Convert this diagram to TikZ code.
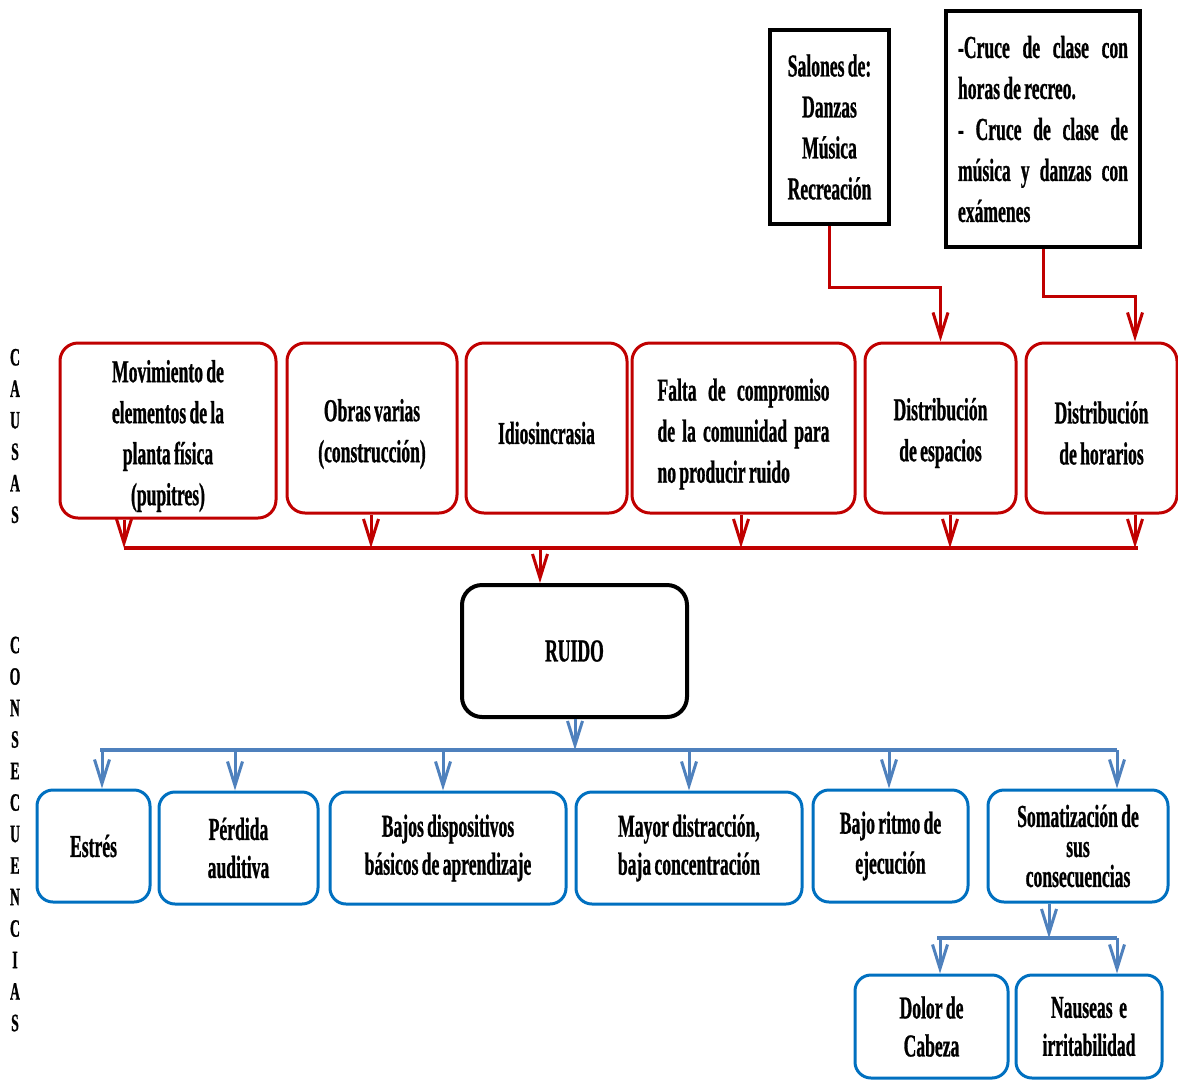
\documentclass[tikz,border=0pt]{standalone}
\usepackage{fontspec}
\setmainfont{Liberation Serif}[FakeStretch=0.55, WordSpace=0.75, BoldFeatures={FakeBold=0.8}]
\usetikzlibrary{arrows.meta}
\definecolor{causered}{HTML}{C00000}
\definecolor{consblue}{HTML}{0070C0}
\definecolor{linkblue}{HTML}{4F81BD}
\begin{document}
\begin{tikzpicture}[x=1pt,y=-1pt,
  every node/.style={font=\bfseries\fontsize{32}{41}\selectfont, inner sep=0pt},
  causebox/.style={draw=causered, line width=3pt, rounded corners=18pt, fill=white},
  causetext/.style={align=center},
  consbox/.style={draw=consblue, line width=3pt, rounded corners=16pt, fill=white, align=center},
  notebox/.style={draw=black, line width=4pt, fill=white},
  redlink/.style={draw=causered, line width=3pt},
  bluelink/.style={draw=linkblue, line width=3pt},
  tipped/.style={-{Straight Barb[length=24pt,width=15pt]}},
  sideword/.style={font=\bfseries\fontsize{25}{31.5}\selectfont, align=center}
]
\useasboundingbox (0,0) rectangle (1178,1080);

% side labels
\node[sideword] (causas) at (15,436) {C\\A\\U\\S\\A\\S};
\node[sideword] (consec) at (15,834) {C\\O\\N\\S\\E\\C\\U\\E\\N\\C\\I\\A\\S};

% note boxes on top
\node[notebox, minimum width=119pt, minimum height=194pt, align=center] (sal) at (829.5,127)
  {Salones de:\\Danzas\\Música\\Recreación};
\node[notebox, minimum width=194pt, minimum height=236pt, align=left] (cru) at (1043,129)
  {\makebox[170pt][s]{-Cruce de clase con}\\
   \makebox[170pt][l]{horas de recreo.}\\
   \makebox[170pt][s]{- Cruce de clase de}\\
   \makebox[170pt][s]{música y danzas con}\\
   \makebox[170pt][l]{exámenes}};

% causes: frames
\node[causebox, minimum width=216pt, minimum height=175pt] (mov) at (168,430.5) {};
\node[causebox, minimum width=170pt, minimum height=170pt] (obr) at (372,428) {};
\node[causebox, minimum width=161pt, minimum height=170pt] (idi) at (546.5,428) {};
\node[causebox, minimum width=223pt, minimum height=170pt] (fal) at (743.5,428) {};
\node[causebox, minimum width=151pt, minimum height=170pt] (dse) at (940.5,428) {};
\node[causebox, minimum width=151pt, minimum height=170pt] (dsh) at (1101.5,428) {};

% causes: texts
\node[causetext] (movt) at (168,436) {Movimiento de\\elementos de la\\planta física\\(pupitres)};
\node[causetext] (obrt) at (372,434) {Obras varias\\(construcción)};
\node[causetext] (idit) at (546.5,433) {Idiosincrasia};
\node[causetext, align=left] (falt) at (743.5,434)
  {\makebox[172pt][s]{Falta de compromiso}\\
   \makebox[172pt][s]{de la comunidad para}\\
   \makebox[172pt][l]{no producir ruido}};
\node[causetext] (dset) at (940.5,433) {Distribución\\de espacios};
\node[causetext] (dsht) at (1101.5,433) {Distribución\\de horarios};

% central problem
\node[draw=black, line width=4pt, rounded corners=20pt, fill=white,
      minimum width=225pt, minimum height=132pt] (ruido) at (574.5,651) {RUIDO};

% consequences
\node[consbox, minimum width=113pt, minimum height=112pt] (est) at (93.5,846) {\raisebox{-3pt}{Estrés}};
\node[consbox, minimum width=159pt, minimum height=112pt, font=\bfseries\fontsize{32}{38}\selectfont] (per) at (238.5,848) {Pérdida\\auditiva};
\node[consbox, minimum width=236pt, minimum height=112pt, font=\bfseries\fontsize{32}{38}\selectfont] (baj) at (448,848) {Bajos dispositivos\\básicos de aprendizaje};
\node[consbox, minimum width=226pt, minimum height=112pt, font=\bfseries\fontsize{32}{38}\selectfont] (may) at (689,848) {Mayor distracción,\\baja concentración};
\node[consbox, minimum width=155pt, minimum height=112pt, font=\bfseries\fontsize{32}{40}\selectfont] (rit) at (890.5,846) {Bajo ritmo de\\ejecución};
\node[consbox, minimum width=180pt, minimum height=112pt, font=\bfseries\fontsize{32}{30}\selectfont] (som) at (1078,846) {Somatización de\\sus\\consecuencias};
\node[consbox, minimum width=153pt, minimum height=103pt, font=\bfseries\fontsize{32}{38}\selectfont] (dol) at (931.5,1026.5) {Dolor de\\Cabeza};
\node[consbox, minimum width=146pt, minimum height=103pt, font=\bfseries\fontsize{32}{38}\selectfont] (nau) at (1089,1026.5) {Nauseas~ e\\irritabilidad};

% links from the notes
\draw[redlink, tipped] (sal.south) -- (sal.south |- 0,287) -| (dse.north);
\draw[redlink, tipped] (cru.south) -- (cru.south |- 0,296) -| (dsh.north -| 1135,0);

% cause bus
\coordinate (b1) at (124,548);
\coordinate (b2) at (371,548);
\coordinate (b3) at (741,548);
\coordinate (b4) at (950,548);
\coordinate (b5) at (1135,548);
\coordinate (bE) at (1138,548);
\coordinate (b0) at (540,548);
\draw[redlink, line width=4pt] (b1) -- (bE);
\draw[redlink, tipped] (mov.south -| b1) -- (b1);
\draw[redlink, tipped] (obr.south -| b2) -- (b2);
\draw[redlink, tipped] (fal.south -| b3) -- (b3);
\draw[redlink, tipped] (dse.south -| b4) -- (b4);
\draw[redlink, tipped] (dsh.south -| b5) -- (b5);
\draw[redlink, tipped] (b0) -- (b0 |- ruido.north);

% consequence bus
\coordinate (u0) at (575,750);
\coordinate (uS) at (100,750);
\coordinate (u1) at (102,750);
\coordinate (u2) at (235,750);
\coordinate (u3) at (443,750);
\coordinate (u4) at (689,750);
\coordinate (u5) at (889,750);
\coordinate (u6) at (1117,750);
\draw[bluelink, line width=4pt] (uS) -- (u6);
\draw[bluelink, tipped] (ruido.south -| u0) -- (u0);
\draw[bluelink, tipped] (u1) -- (u1 |- est.north);
\draw[bluelink, tipped] (u2) -- (u2 |- per.north);
\draw[bluelink, tipped] (u3) -- (u3 |- baj.north);
\draw[bluelink, tipped] (u4) -- (u4 |- may.north);
\draw[bluelink, tipped] (u5) -- (u5 |- rit.north);
\draw[bluelink, tipped] (u6) -- (u6 |- som.north);

% somatization bus
\coordinate (s0) at (1049,938);
\coordinate (sS) at (937,938);
\coordinate (s1) at (940,938);
\coordinate (s2) at (1117,938);
\draw[bluelink, line width=4pt] (sS) -- (s2);
\draw[bluelink, tipped] (som.south -| s0) -- (s0);
\draw[bluelink, tipped] (s1) -- (s1 |- dol.north);
\draw[bluelink, tipped] (s2) -- (s2 |- nau.north);
\end{tikzpicture}
\end{document}
